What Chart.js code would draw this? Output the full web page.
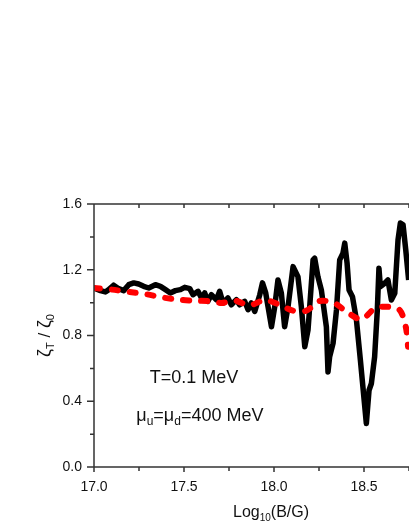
<!DOCTYPE html>
<html>
<head>
<meta charset="utf-8">
<script src="https://cdn.jsdelivr.net/npm/chart.js@4.4.0/dist/chart.umd.min.js"></script>
<style>
  html, body { margin: 0; padding: 0; background: #fff; overflow: hidden; }
</style>
</head>
<body>
<canvas id="zeta-chart" width="409" height="529"></canvas>
<script>
// black solid curve: log10(B/G) vs zeta_T / zeta_0
const logB = [
  17.000, 17.036, 17.063, 17.082, 17.109, 17.137, 17.165, 17.193, 17.221, 17.248,
  17.276, 17.304, 17.341, 17.369, 17.397, 17.424, 17.452, 17.480, 17.504, 17.532,
  17.550, 17.578, 17.597, 17.615, 17.633, 17.652, 17.680, 17.698, 17.717, 17.744,
  17.763, 17.791, 17.809, 17.837, 17.856, 17.874, 17.893, 17.921, 17.936, 17.954,
  17.967, 17.986, 18.004, 18.022, 18.041, 18.059, 18.078, 18.106, 18.133, 18.152,
  18.171, 18.189, 18.217, 18.226, 18.244, 18.263, 18.291, 18.300, 18.309, 18.328,
  18.347, 18.365, 18.383, 18.393, 18.406, 18.417, 18.436, 18.458, 18.480, 18.494,
  18.513, 18.528, 18.541, 18.559, 18.574, 18.583, 18.591, 18.615, 18.633, 18.652,
  18.671, 18.689, 18.702, 18.717, 18.732, 18.748
];
const zetaRatio = [
  1.089, 1.073, 1.065, 1.079, 1.106, 1.085, 1.073, 1.109, 1.120, 1.113,
  1.099, 1.089, 1.109, 1.099, 1.079, 1.059, 1.073, 1.079, 1.093, 1.085,
  1.048, 1.069, 1.028, 1.059, 1.008, 1.048, 1.018, 1.069, 0.998, 1.028,
  0.987, 1.018, 0.987, 1.008, 0.957, 0.998, 0.947, 1.048, 1.120, 1.059,
  0.975, 0.853, 0.975, 1.138, 1.057, 0.853, 0.975, 1.219, 1.158, 0.975,
  0.731, 0.833, 1.260, 1.270, 1.158, 1.077, 0.853, 0.578, 0.670, 0.752,
  0.955, 1.260, 1.300, 1.362, 1.240, 1.077, 1.036, 0.894, 0.650, 0.487,
  0.264, 0.467, 0.508, 0.670, 0.955, 1.209, 1.097, 1.118, 1.138, 1.016,
  1.057, 1.382, 1.484, 1.473, 1.321, 1.138
];

// red dashed curve
const logBSmooth = [
  17.000, 17.101, 17.193, 17.286, 17.378, 17.471, 17.559, 17.652, 17.708, 17.782,
  17.865, 17.948, 18.022, 18.106, 18.180, 18.254, 18.337, 18.402, 18.486, 18.560,
  18.633, 18.698, 18.732, 18.745
];
const zetaSmooth = [
  1.089, 1.079, 1.065, 1.052, 1.032, 1.018, 1.012, 1.008, 0.998, 1.012,
  0.984, 1.016, 0.991, 0.951, 0.951, 1.010, 0.996, 0.945, 0.898, 0.965,
  0.975, 0.955, 0.853, 0.731
];

const xTicks = [17.0, 17.5, 18.0, 18.5];
const yTicks = [0.0, 0.4, 0.8, 1.2, 1.6];

const FONT = '"Liberation Sans", Arial, sans-serif';
const INK = "#111";

function pairUp(xs, ys) {
  return xs.map((x, i) => ({ x: x, y: ys[i] }));
}

// draw a run of text pieces: [text, size, dy]
function richText(ctx, parts, x, y, align) {
  let w = 0;
  parts.forEach(p => {
    ctx.font = p[1] + "px " + FONT;
    w += ctx.measureText(p[0]).width;
  });
  let cx = align === "center" ? x - w / 2 : x;
  parts.forEach(p => {
    ctx.font = p[1] + "px " + FONT;
    ctx.fillText(p[0], cx, y + p[2]);
    cx += ctx.measureText(p[0]).width;
  });
}

const framePlugin = {
  id: "frame",
  afterDraw(chart) {
    const { ctx, chartArea: a, scales: { x, y } } = chart;
    ctx.save();
    ctx.strokeStyle = "#333";
    ctx.lineWidth = 1.5;
    ctx.beginPath();
    // axes box (right side is cut off)
    ctx.moveTo(a.right + 2, a.top);
    ctx.lineTo(a.left, a.top);
    ctx.lineTo(a.left, a.bottom);
    ctx.lineTo(a.right + 2, a.bottom);

    // x ticks: major + minor, bottom outside, top inside
    const xStep = xTicks[1] - xTicks[0];
    for (let v = x.min; v <= x.max + 1e-9; v += xStep / 2) {
      const px = x.getPixelForValue(v);
      const major = xTicks.some(t => Math.abs(t - v) < 1e-6);
      ctx.moveTo(px, a.bottom);
      ctx.lineTo(px, a.bottom + (major ? 5 : 4));
      ctx.moveTo(px, a.top);
      ctx.lineTo(px, a.top + 4);
    }
    // y ticks outside on the left
    const yStep = yTicks[1] - yTicks[0];
    for (let v = y.min; v <= y.max + 1e-9; v += yStep / 2) {
      const py = y.getPixelForValue(v);
      const major = yTicks.some(t => Math.abs(t - v) < 1e-6);
      ctx.moveTo(a.left, py);
      ctx.lineTo(a.left - (major ? 7 : 4), py);
    }
    ctx.stroke();

    ctx.fillStyle = INK;
    ctx.textBaseline = "alphabetic";
    ctx.textAlign = "left";

    // x axis title
    richText(ctx, [["Log", 16, 0], ["10", 10, 4], ["(B/G)", 16, 0]],
      x.getPixelForValue(18.0) - 3, a.bottom + 50, "center");

    // y axis title, rotated
    ctx.save();
    ctx.translate(50, (a.top + a.bottom) / 2);
    ctx.rotate(-Math.PI / 2);
    richText(ctx, [["\u03B6", 18, 0], ["T", 11, 4], [" / ", 17, 0], ["\u03B6", 18, 0], ["0", 11, 4]],
      0, 0, "center");
    ctx.restore();

    // annotations inside the plot
    richText(ctx, [["T=0.1 MeV", 18, 0]],
      x.getPixelForValue(17.31), y.getPixelForValue(0.51), "left");
    richText(ctx, [["\u03BC", 18, 0], ["u", 12, 4], ["=", 18, 0], ["\u03BC", 18, 0], ["d", 12, 4], ["=400 MeV", 18, 0]],
      x.getPixelForValue(17.235), y.getPixelForValue(0.28), "left");
    ctx.restore();
  }
};

const ctxZeta = document.querySelector("#zeta-chart").getContext("2d");

const zetaChart = new Chart(ctxZeta, {
  type: "line",
  data: {
    datasets: [
      {
        label: "smooth",
        data: pairUp(logBSmooth, zetaSmooth),
        borderColor: "#ff0000",
        borderWidth: 6,
        borderDash: [6, 12],
        borderCapStyle: "round",
        borderJoinStyle: "round",
        pointRadius: 0,
        tension: 0.3
      },
      {
        label: "full",
        data: pairUp(logB, zetaRatio),
        borderColor: "#000",
        borderWidth: 5.5,
        borderJoinStyle: "round",
        pointRadius: 0,
        tension: 0
      }
    ]
  },
  options: {
    responsive: false,
    animation: false,
    devicePixelRatio: 1,
    layout: { padding: { top: 204, right: 0, bottom: 0, left: 0 } },
    plugins: {
      legend: { display: false },
      tooltip: { enabled: false }
    },
    scales: {
      x: {
        type: "linear",
        min: 17.0,
        max: 18.75,
        afterBuildTicks: s => { s.ticks = xTicks.map(v => ({ value: v })); },
        afterFit: s => { s.height = 62; },
        grid: { display: false, drawTicks: true, tickLength: 7 },
        border: { display: false },
        ticks: {
          padding: 5,
          color: INK,
          font: { family: FONT, size: 14 },
          maxRotation: 0,
          autoSkip: false,
          callback: v => Number(v).toFixed(1)
        }
      },
      y: {
        type: "linear",
        min: 0,
        max: 1.6,
        afterBuildTicks: s => { s.ticks = yTicks.map(v => ({ value: v })); },
        afterFit: s => { s.width = 94; },
        grid: { display: false, drawTicks: true, tickLength: 7 },
        border: { display: false },
        ticks: {
          padding: 5,
          color: INK,
          font: { family: FONT, size: 14 },
          autoSkip: false,
          callback: v => Number(v).toFixed(1)
        }
      }
    }
  },
  plugins: [framePlugin]
});
</script>
</body>
</html>
